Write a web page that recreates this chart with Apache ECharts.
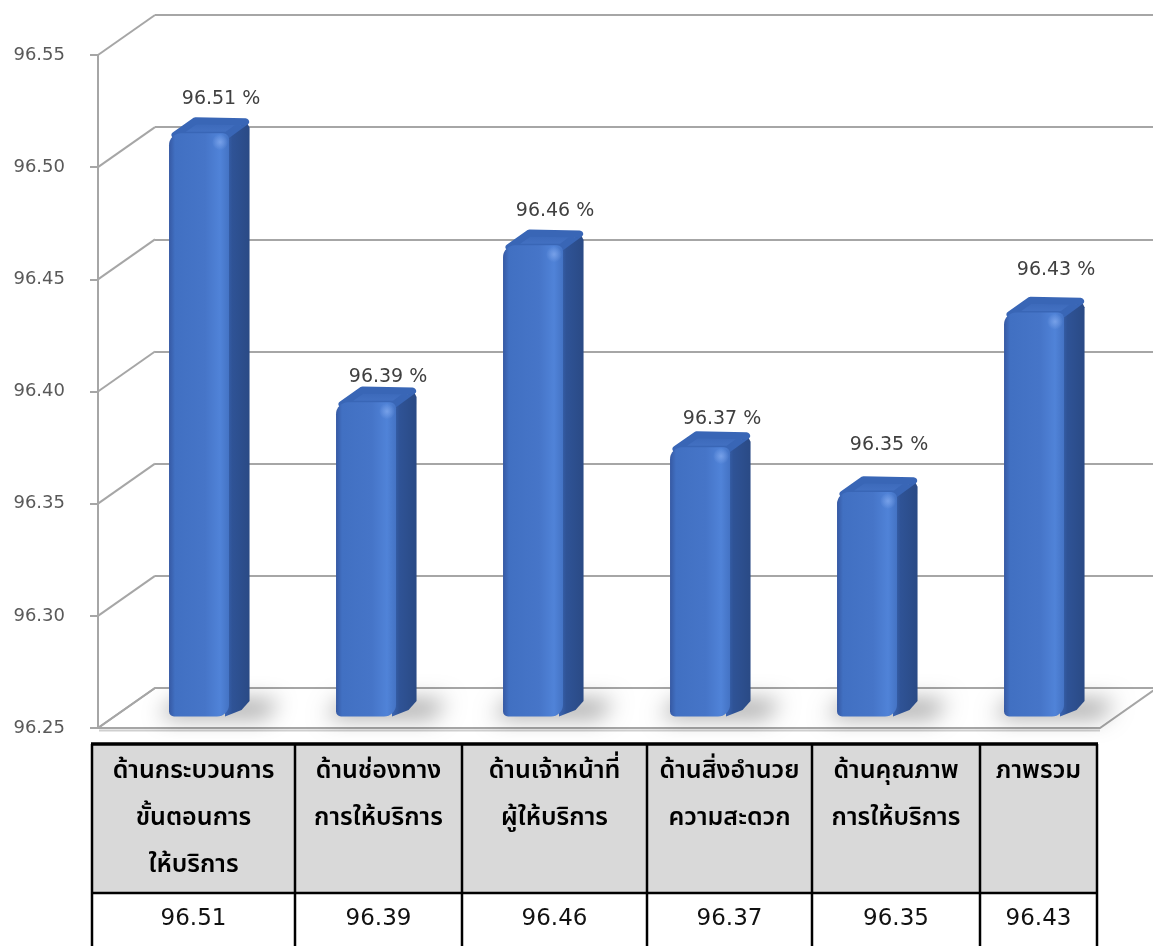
<!DOCTYPE html>
<html>
<head>
<meta charset="utf-8">
<script src="https://cdn.jsdelivr.net/npm/echarts@6/dist/echarts.min.js"></script>
<style>
  html, body { margin: 0; padding: 0; background: #ffffff; }
  #chart { width: 1153px; height: 946px; }
</style>
</head>
<body>
<div id="chart"></div>
<script>
// Service satisfaction by aspect (percent)
const categories = [
  'ด้านกระบวนการ\nขั้นตอนการ\nให้บริการ',
  'ด้านช่องทาง\nการให้บริการ',
  'ด้านเจ้าหน้าที่\nผู้ให้บริการ',
  'ด้านสิ่งอำนวย\nความสะดวก',
  'ด้านคุณภาพ\nการให้บริการ',
  'ภาพรวม'
];
const values = [96.51, 96.39, 96.46, 96.37, 96.35, 96.43];
const yTicks = [96.25, 96.30, 96.35, 96.40, 96.45, 96.50, 96.55];
const yMin = 96.25;
const yMax = 96.55;
const yStep = 0.05;

// perspective offset between the front plane and the back wall
const DX = 57, DY = -40;
const GRID_LINE = '#a6a6a6';
const LABEL_FONT = '"DejaVu Sans", Tahoma, sans-serif';
const THAI_FONT = '"Noto Sans Thai", "Noto Sans Thai UI", Tahoma, "Leelawadee UI", "Noto Sans", "DejaVu Sans", sans-serif';
// hand-placed vertical nudges of the value labels
const labelShiftY = [0, 9, 0, 6, -13, -8];

// table layout
const colEdges = [92, 295, 462, 647, 812, 980, 1097];
const tableTop = 744, headerBottom = 893, tableBottom = 950;

const chart = echarts.init(document.getElementById('chart'), null, { renderer: 'canvas' });

// wall connectors and floor, one item per y tick
function renderFrame(params, api) {
  const cs = params.coordSys;
  const v = api.value(1);
  const p = api.coord([0, v]);
  const x0 = cs.x, y = p[1];
  const children = [];
  if (v === yMin) {
    const xr = cs.x + cs.width;
    children.push({
      type: 'polygon',
      shape: { points: [[x0, y], [xr, y], [xr + DX, y + DY], [x0 + DX, y + DY]] },
      style: { fill: '#ffffff', stroke: GRID_LINE, lineWidth: 2 }
    });
    children.push({
      type: 'line',
      shape: { x1: x0 + 1, y1: y + 2.5, x2: xr, y2: y + 2.5 },
      style: { stroke: '#cfcfcf', lineWidth: 2 }
    });
  }
  children.push({
    type: 'line',
    shape: { x1: x0, y1: y, x2: x0 + DX, y2: y + DY },
    style: { stroke: GRID_LINE, lineWidth: 2 }
  });
  return { type: 'group', children };
}

// rounded 3D column with floor shadow and value label
function renderBar(params, api) {
  const idx = api.value(0), v = api.value(1);
  const top = api.coord([idx, v]);
  const bot = api.coord([idx, yMin]);
  const f1 = 0.29, f2 = 0.65;
  const w = 60;
  const cx = top[0] + DX * f1 + 1;
  const x0 = cx - w / 2, x1 = cx + w / 2;
  const yt = top[1] + DY * f1, yb = bot[1] + DY * f1;
  const sdx = DX * (f2 - f1), sdy = DY * (f2 - f1);
  const OFF = 3000;

  const frontFill = new echarts.graphic.LinearGradient(0, 0, 1, 0, [
    { offset: 0, color: '#3659a3' },
    { offset: 0.1, color: '#4170c2' },
    { offset: 0.6, color: '#4675c8' },
    { offset: 0.85, color: '#5083d8' },
    { offset: 1, color: '#4473c4' }
  ]);
  const sideFill = new echarts.graphic.LinearGradient(0, 0, 1, 0, [
    { offset: 0, color: '#3a65b3' },
    { offset: 0.3, color: '#2f5396' },
    { offset: 1, color: '#2a4a85' }
  ]);
  const topFill = new echarts.graphic.LinearGradient(0, 1, 0, 0, [
    { offset: 0, color: '#4876c8' },
    { offset: 1, color: '#3764b4' }
  ]);

  return {
    type: 'group',
    children: [
      {
        // soft floor shadow: the shape sits off-canvas and only its blur is drawn
        type: 'polygon',
        shape: {
          points: [
            [x0 - 10 - OFF, yb + 1], [x1 + sdx + 16 - OFF, yb + 1],
            [x1 + sdx + 30 - OFF, yb - 16], [x0 + 6 - OFF, yb - 16]
          ]
        },
        style: {
          fill: '#000',
          shadowBlur: 22,
          shadowColor: 'rgba(0,0,0,0.38)',
          shadowOffsetX: OFF,
          shadowOffsetY: 0
        }
      },
      {
        type: 'polygon',
        shape: {
          points: [[x1 - 4, yt + 2], [x1 + sdx - 3, yt + sdy + 3], [x1 + sdx, yt + sdy + 9],
                   [x1 + sdx, yb + sdy - 1], [x1 + sdx - 8, yb + sdy + 8], [x1 - 4, yb]]
        },
        style: { fill: sideFill }
      },
      {
        type: 'polygon',
        shape: { points: [[x0 + 6, yt + 2], [x1 - 2, yt + 2], [x1 + sdx - 4, yt + sdy + 3], [x0 + sdx + 6, yt + sdy + 2]] },
        style: { fill: topFill, stroke: '#3966b6', lineWidth: 7, lineJoin: 'round' }
      },
      {
        type: 'rect',
        shape: { x: x0, y: yt, width: w, height: yb - yt, r: [12, 6, 12, 5] },
        style: { fill: frontFill }
      },
      {
        type: 'circle',
        shape: { cx: x1 - 9, cy: yt + 9, r: 8 },
        style: {
          fill: new echarts.graphic.RadialGradient(0.5, 0.5, 0.5, [
            { offset: 0, color: 'rgba(125,165,235,0.85)' },
            { offset: 1, color: 'rgba(125,165,235,0)' }
          ])
        }
      },
      {
        type: 'text',
        x: cx + 22,
        y: yt + sdy - 20 + labelShiftY[idx],
        style: {
          text: v.toFixed(2) + ' %',
          font: '19px ' + LABEL_FONT,
          fill: '#404040',
          textAlign: 'center',
          textVerticalAlign: 'middle'
        }
      }
    ]
  };
}

// table below the plot: category headers and values
function buildTable() {
  const els = [];
  els.push({
    type: 'rect',
    shape: { x: colEdges[0], y: tableTop, width: colEdges[colEdges.length - 1] - colEdges[0], height: headerBottom - tableTop },
    style: { fill: '#d9d9d9' }
  });
  categories.forEach((name, i) => {
    const mid = (colEdges[i] + colEdges[i + 1]) / 2;
    els.push({
      type: 'text',
      x: mid,
      y: tableTop + 5,
      style: {
        text: name,
        font: '600 25px ' + THAI_FONT,
        lineHeight: 47,
        fill: '#000000',
        textAlign: 'center',
        textVerticalAlign: 'top'
      }
    });
    els.push({
      type: 'text',
      x: mid,
      y: (headerBottom + 945) / 2,
      style: {
        text: values[i].toFixed(2),
        font: '23px ' + LABEL_FONT,
        fill: '#111111',
        textAlign: 'center',
        textVerticalAlign: 'middle'
      }
    });
  });
  colEdges.forEach((x) => {
    els.push({
      type: 'line',
      shape: { x1: x, y1: tableTop, x2: x, y2: tableBottom },
      style: { stroke: '#000000', lineWidth: 2.5 }
    });
  });
  els.push({
    type: 'line',
    shape: { x1: colEdges[0] - 1, y1: tableTop, x2: colEdges[colEdges.length - 1] + 1, y2: tableTop },
    style: { stroke: '#000000', lineWidth: 3.5 }
  });
  els.push({
    type: 'line',
    shape: { x1: colEdges[0], y1: headerBottom, x2: colEdges[colEdges.length - 1], y2: headerBottom },
    style: { stroke: '#000000', lineWidth: 2.5 }
  });
  return els;
}

const option = {
  backgroundColor: '#ffffff',
  animation: false,
  grid: [
    { left: 98, top: 55, width: 1002, height: 673 },
    { left: 98 + DX, top: 55 + DY, right: 0, height: 673 }
  ],
  xAxis: [
    {
      type: 'category', gridIndex: 0, data: categories,
      axisLine: { show: false }, axisTick: { show: false }, axisLabel: { show: false }
    },
    {
      type: 'category', gridIndex: 1, data: categories,
      axisLine: { show: false }, axisTick: { show: false }, axisLabel: { show: false }
    }
  ],
  yAxis: [
    {
      type: 'value', gridIndex: 0, min: yMin, max: yMax, interval: yStep,
      axisLine: { show: true, lineStyle: { color: GRID_LINE, width: 2 } },
      axisTick: { show: true, length: 8, lineStyle: { color: GRID_LINE, width: 2 } },
      axisLabel: {
        margin: 33, color: '#595959', fontSize: 18, fontFamily: LABEL_FONT,
        formatter: (v) => v.toFixed(2)
      },
      splitLine: { show: false }
    },
    {
      type: 'value', gridIndex: 1, min: yMin, max: yMax, interval: yStep,
      axisLine: { show: false }, axisTick: { show: false }, axisLabel: { show: false },
      splitLine: { show: true, lineStyle: { color: GRID_LINE, width: 2 } }
    }
  ],
  series: [
    {
      type: 'custom', name: 'frame', xAxisIndex: 0, yAxisIndex: 0,
      data: yTicks.map((t) => [0, t]),
      renderItem: renderFrame, silent: true, z: 1
    },
    {
      type: 'custom', name: 'ความพึงพอใจ', xAxisIndex: 0, yAxisIndex: 0,
      data: values.map((v, i) => [i, v]),
      renderItem: renderBar, z: 3
    }
  ],
  graphic: buildTable()
};

chart.setOption(option);
</script>
</body>
</html>
